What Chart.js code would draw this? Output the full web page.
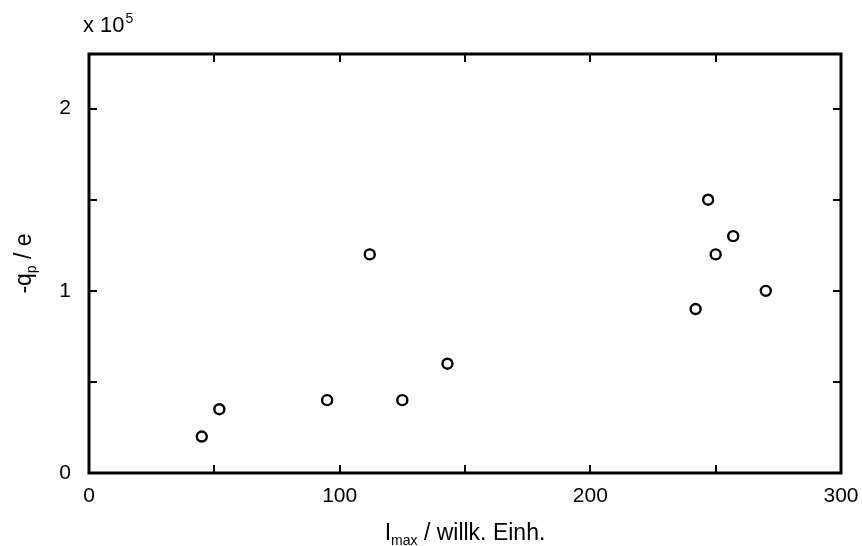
<!DOCTYPE html>
<html>
<head>
<meta charset="utf-8">
<script src="https://cdn.jsdelivr.net/npm/chart.js@4.4.1/dist/chart.umd.min.js"></script>
<style>
  html, body { margin: 0; padding: 0; background: #fff; }
  #wrap { width: 862px; height: 546px; }
</style>
</head>
<body>
<div id="wrap"><canvas id="c"></canvas></div>
<script>
// ===== DATA =====
const imax = [45, 52, 95, 112, 125, 143, 242, 247, 250, 257, 270];   // willk. Einh.
const qp = [0.2, 0.35, 0.4, 1.2, 0.4, 0.6, 0.9, 1.5, 1.2, 1.3, 1.0]; // x 10^5 e
const xTicks = [0, 100, 200, 300];
const yTicks = [0, 1, 2];
const xMinor = [50, 150, 250];
const yMinor = [0.5, 1.5];

const FONT = 'Liberation Sans, Arial, sans-serif';

// text with subscript, centered at x
function drawSub(ctx, parts, x, y, size, subSize, drop) {
  let w = 0;
  parts.forEach(p => {
    ctx.font = (p[1] ? subSize : size) + 'px ' + FONT;
    w += ctx.measureText(p[0]).width;
  });
  let cx = x - w / 2;
  parts.forEach(p => {
    ctx.font = (p[1] ? subSize : size) + 'px ' + FONT;
    ctx.fillText(p[0], cx, p[1] ? y + drop : y);
    cx += ctx.measureText(p[0]).width;
  });
}

// frame, inner ticks, titles
const framePlugin = {
  id: 'frame',
  afterDraw(chart) {
    const { ctx, chartArea: a, scales } = chart;
    const xs = scales.x, ys = scales.y;
    ctx.save();
    ctx.strokeStyle = '#000';
    ctx.lineWidth = 2;
    const tl = 8;
    ctx.beginPath();
    xTicks.concat(xMinor).forEach(v => {
      const px = Math.round(xs.getPixelForValue(v));
      ctx.moveTo(px, a.bottom); ctx.lineTo(px, a.bottom - tl);
      ctx.moveTo(px, a.top); ctx.lineTo(px, a.top + tl);
    });
    yTicks.concat(yMinor).forEach(v => {
      const py = Math.round(ys.getPixelForValue(v));
      ctx.moveTo(a.left, py); ctx.lineTo(a.left + tl, py);
      ctx.moveTo(a.right, py); ctx.lineTo(a.right - tl, py);
    });
    ctx.stroke();
    ctx.lineWidth = 3;
    ctx.strokeRect(a.left, a.top, a.right - a.left, a.bottom - a.top);

    ctx.fillStyle = '#000';
    ctx.textBaseline = 'alphabetic';
    ctx.textAlign = 'left';
    // x title
    drawSub(ctx, [['I', false], ['max', true], [' / willk. Einh.', false]], (a.left + a.right) / 2, 540, 23, 14, 5);
    // y title
    ctx.translate(31, (a.top + a.bottom) / 2);
    ctx.rotate(-Math.PI / 2);
    drawSub(ctx, [['-q', false], ['p', true], [' / e', false]], 0, 0, 23, 14, 5);
    ctx.setTransform(1, 0, 0, 1, 0, 0);
    // exponent
    ctx.font = '22px ' + FONT;
    ctx.fillText('x 10', 83, 32);
    const w = ctx.measureText('x 10').width;
    ctx.font = '14px ' + FONT;
    ctx.fillText('5', 83 + w + 1, 23);
    ctx.restore();
  }
};

new Chart(document.getElementById('c'), {
  type: 'scatter',
  data: {
    datasets: [{
      data: imax.map((x, i) => ({ x, y: qp[i] })),
      pointRadius: 5,
      pointBorderWidth: 2.4,
      pointBorderColor: '#000',
      pointBackgroundColor: 'rgba(0,0,0,0)',
      pointHoverRadius: 5
    }]
  },
  options: {
    responsive: true,
    maintainAspectRatio: false,
    animation: false,
    layout: { padding: { top: 54, right: 21, left: 0, bottom: 0 } },
    plugins: { legend: { display: false }, tooltip: { enabled: false } },
    scales: {
      x: {
        type: 'linear', min: 0, max: 300,
        afterBuildTicks: s => { s.ticks = xTicks.map(v => ({ value: v })); },
        afterFit: s => { s.height = 73; s.paddingLeft = 0; s.paddingRight = 0; },
        grid: { display: false, drawTicks: false },
        border: { display: false },
        ticks: { padding: 11, color: '#000', font: { family: FONT, size: 21 } }
      },
      y: {
        type: 'linear', min: 0, max: 2.3,
        afterBuildTicks: s => { s.ticks = yTicks.map(v => ({ value: v })); },
        afterFit: s => { s.width = 89; s.paddingTop = 0; s.paddingBottom = 0; },
        grid: { display: false, drawTicks: false },
        border: { display: false },
        ticks: { padding: 18, color: '#000', font: { family: FONT, size: 21 } }
      }
    }
  },
  plugins: [framePlugin]
});
</script>
</body>
</html>
